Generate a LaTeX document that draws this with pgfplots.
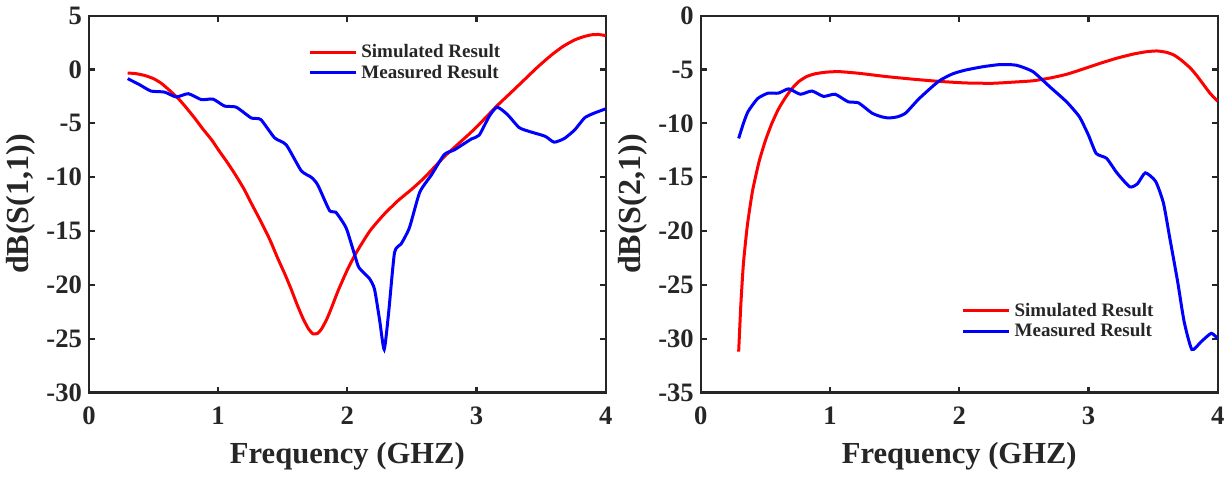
\documentclass[border=0pt]{standalone}
\usepackage{pgfplots}
\pgfplotsset{compat=1.18}
\usepackage{fontspec}
\setmainfont{Liberation Serif}
\definecolor{axgray}{HTML}{262626}
\pgfplotsset{
  myaxis/.style={
    scale only axis, width=258.5pt, height=188.5pt,
    xmin=0, xmax=4, xtick={0,1,2,3,4},
    axis line style={axgray, line width=1.1pt},
    tick style={axgray, line width=1.1pt},
    tick align=inside, major tick length=3pt,
    xtick pos=both, ytick pos=both,
    /pgf/number format/assume math mode=true,
    tick label style={font=\fontsize{13.3}{15}\selectfont\bfseries, text=axgray},
    xticklabel style={yshift=-3.5pt},
    xlabel={Frequency (GHZ)},
    xlabel style={font=\fontsize{15.3}{17}\selectfont\bfseries, text=axgray, yshift=-2pt},
    ylabel style={font=\fontsize{16}{18}\selectfont\bfseries, text=axgray, yshift=-1.5pt},
    legend style={draw=none, fill=none, font=\fontsize{9.5}{11}\selectfont\bfseries, text=axgray, row sep=-2pt, inner sep=1pt},
    legend cell align=left,
    legend image code/.code={\draw[#1] (0pt,0pt) -- (23pt,0pt);},
    every axis plot/.append style={line width=1.5pt, smooth, tension=0.35},
  }
}
\begin{document}
\begin{tikzpicture}
\begin{axis}[myaxis, at={(0,0)},
  ymin=-30, ymax=5, ytick={-30,-25,...,5},
  ylabel={dB(S(1,1))},
  legend style={at={(0.42,0.94)}, anchor=north west}]
\addplot[red] coordinates {
(0.30,-0.33) (0.36,-0.38) (0.43,-0.55) (0.5,-0.85) (0.56,-1.28) (0.62,-1.9) (0.69,-2.68) (0.75,-3.5) (0.82,-4.54) (0.88,-5.5) (0.95,-6.54) (1.01,-7.6) (1.075,-8.7) (1.14,-9.9) (1.20,-11.1) (1.26,-12.5) (1.33,-14.1) (1.40,-15.8) (1.46,-17.5) (1.52,-19.1) (1.565,-20.4) (1.61,-21.8) (1.656,-23.1) (1.70,-24.1) (1.735,-24.55) (1.77,-24.5) (1.80,-24.1) (1.84,-23.2) (1.875,-22.2) (1.93,-20.5) (2.0,-18.6) (2.06,-17.2) (2.12,-16.0) (2.18,-14.9) (2.28,-13.5) (2.39,-12.2) (2.5,-11.1) (2.6,-10.0) (2.75,-8.1) (2.85,-7.0) (2.96,-5.8) (3.06,-4.6) (3.16,-3.35) (3.27,-2.1) (3.37,-0.95) (3.47,0.2) (3.58,1.35) (3.67,2.15) (3.76,2.75) (3.83,3.05) (3.89,3.22) (3.94,3.25) (4.0,3.15)
};
\addlegendentry{Simulated Result}
\addplot[blue] coordinates {
(0.30,-0.85) (0.39,-1.4) (0.48,-2.0) (0.585,-2.1) (0.675,-2.55) (0.77,-2.25) (0.87,-2.8) (0.96,-2.75) (1.05,-3.4) (1.14,-3.5) (1.256,-4.5) (1.33,-4.65) (1.437,-6.35) (1.527,-7.0) (1.643,-9.4) (1.72,-10.0) (1.77,-10.7) (1.862,-13.1) (1.91,-13.25) (1.99,-14.7) (2.056,-17.2) (2.09,-18.4) (2.17,-19.4) (2.21,-20.4) (2.25,-23.3) (2.285,-26.0) (2.32,-22.5) (2.365,-17.0) (2.416,-16.2) (2.48,-14.7) (2.56,-11.4) (2.65,-9.8) (2.75,-7.9) (2.83,-7.45) (2.96,-6.45) (3.02,-6.1) (3.10,-4.3) (3.16,-3.5) (3.24,-4.2) (3.33,-5.4) (3.42,-5.8) (3.53,-6.2) (3.60,-6.75) (3.68,-6.4) (3.76,-5.6) (3.835,-4.5) (3.90,-4.1) (4.0,-3.65)
};
\addlegendentry{Measured Result}
\path (rel axis cs:0,0) -- ++(-45.5pt,-42pt);
\path (rel axis cs:0,1) -- ++(0pt,7pt);
\end{axis}
\begin{axis}[myaxis, at={(306pt,0)},
  ymin=-35, ymax=0, ytick={-35,-30,...,0},
  ylabel={dB(S(2,1))},
  legend style={at={(0.50,0.255)}, anchor=north west}]
\addplot[red] coordinates {
(0.293,-31.2) (0.31,-26.8) (0.33,-23.0) (0.36,-19.5) (0.40,-16.3) (0.45,-13.6) (0.50,-11.6) (0.55,-10.0) (0.60,-8.7) (0.65,-7.7) (0.70,-6.85) (0.755,-6.15) (0.82,-5.65) (0.885,-5.4) (0.97,-5.25) (1.07,-5.2) (1.22,-5.35) (1.43,-5.65) (1.64,-5.9) (1.84,-6.1) (2.05,-6.25) (2.26,-6.28) (2.45,-6.15) (2.57,-6.05) (2.7,-5.8) (2.83,-5.45) (2.96,-4.95) (3.09,-4.43) (3.22,-3.95) (3.35,-3.56) (3.45,-3.35) (3.53,-3.28) (3.60,-3.4) (3.66,-3.65) (3.72,-4.15) (3.79,-4.89) (3.84,-5.6) (3.89,-6.4) (3.94,-7.2) (4.0,-7.95)
};
\addlegendentry{Simulated Result}
\addplot[blue] coordinates {
(0.293,-11.4) (0.33,-10.0) (0.366,-8.9) (0.44,-7.7) (0.52,-7.2) (0.60,-7.2) (0.68,-6.8) (0.77,-7.3) (0.86,-7.0) (0.95,-7.5) (1.04,-7.3) (1.14,-8.0) (1.22,-8.1) (1.325,-9.05) (1.40,-9.4) (1.455,-9.5) (1.52,-9.4) (1.585,-9.05) (1.69,-7.7) (1.84,-6.1) (1.95,-5.4) (2.05,-5.05) (2.18,-4.75) (2.31,-4.55) (2.44,-4.6) (2.57,-5.2) (2.70,-6.6) (2.83,-8.0) (2.93,-9.4) (3.00,-11.1) (3.06,-12.8) (3.14,-13.25) (3.22,-14.6) (3.32,-15.9) (3.38,-15.6) (3.44,-14.6) (3.52,-15.4) (3.58,-17.4) (3.63,-20.7) (3.69,-24.7) (3.74,-28.4) (3.80,-31.0) (3.87,-30.3) (3.95,-29.5) (4.0,-30.0)
};
\addlegendentry{Measured Result}
\path (rel axis cs:1,0) -- ++(7pt,0pt);
\end{axis}
\end{tikzpicture}
\end{document}
